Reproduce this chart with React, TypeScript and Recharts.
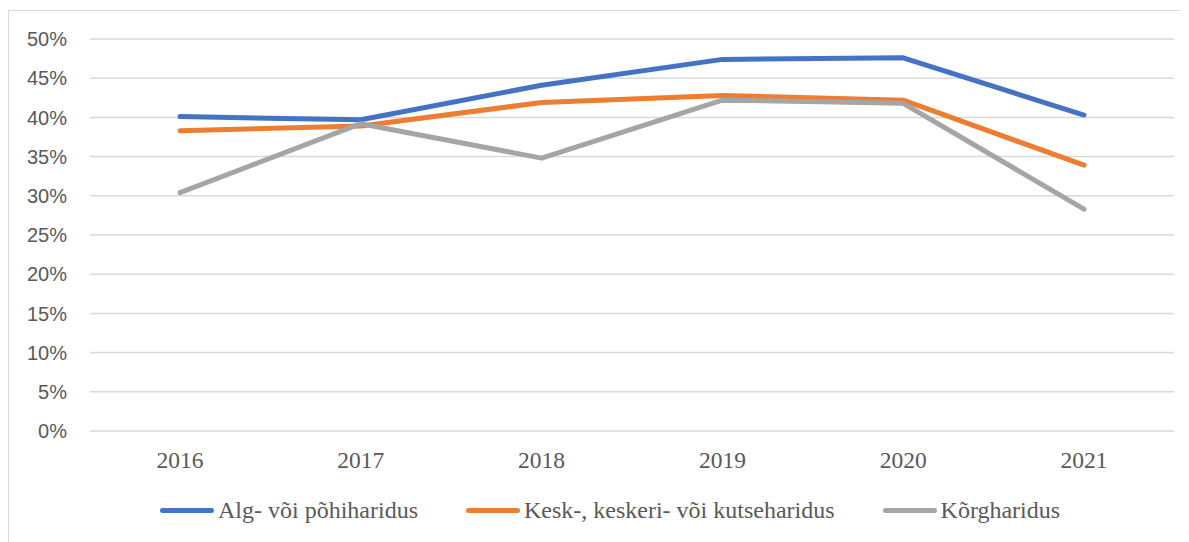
import React from 'react';
import { LineChart, Line, XAxis, YAxis, CartesianGrid, Legend } from 'recharts';

const years = ['2016', '2017', '2018', '2019', '2020', '2021'];
const algVoiPohi = [40.1, 39.7, 44.1, 47.4, 47.6, 40.3];
const keskVoiKutse = [38.3, 38.9, 41.9, 42.8, 42.2, 33.9];
const korg = [30.4, 39.2, 34.8, 42.2, 41.8, 28.3];
const yTicks = [0, 5, 10, 15, 20, 25, 30, 35, 40, 45, 50];

const series = [
  { key: 'alg', name: 'Alg- või põhiharidus', color: '#4472C4' },
  { key: 'kesk', name: 'Kesk-, keskeri- või kutseharidus', color: '#ED7D31' },
  { key: 'korg', name: 'Kõrgharidus', color: '#A5A5A5' },
];

const data = years.map((year, i) => ({
  year,
  alg: algVoiPohi[i],
  kesk: keskVoiKutse[i],
  korg: korg[i],
}));

const serif = '"Liberation Serif", "Times New Roman", serif';
const sans = '"Liberation Sans", Arial, sans-serif';

const LegendContent = () => (
  <div style={{ display: 'flex', alignItems: 'center', gap: 48, fontFamily: serif, fontSize: 24, color: '#595959', whiteSpace: 'nowrap' }}>
    {series.map(s => (
      <div key={s.key} style={{ display: 'flex', alignItems: 'center' }}>
        <span style={{ display: 'inline-block', width: 54, height: 5, borderRadius: 3, background: s.color, marginRight: 4 }} />
        <span>{s.name}</span>
      </div>
    ))}
  </div>
);

const App = () => {
  return (
    <div style={{ paddingTop: 2 }}>
      <div style={{ width: 1185, height: 540, border: '1px solid #d9d9d9', background: '#fff' }}>
        <LineChart width={1180} height={530} data={data} margin={{ top: 28, right: 15, left: 21, bottom: 80 }}>
          <CartesianGrid vertical={false} stroke="#d9d9d9" strokeWidth={1.5} />
          <XAxis
            dataKey="year"
            height={30}
            padding={{ left: 90, right: 90 }}
            axisLine={false}
            tickLine={false}
            tickSize={0}
            tickMargin={20}
            tick={{ fill: '#595959', fontSize: 23.5, fontFamily: serif }}
          />
          <YAxis
            width={60}
            domain={[0, 50]}
            ticks={yTicks}
            axisLine={false}
            tickLine={false}
            tickSize={0}
            tickMargin={23}
            tickFormatter={(v: number) => `${v}%`}
            tick={{ fill: '#595959', fontSize: 20, fontFamily: sans }}
          />
          <Legend
            layout="horizontal"
            verticalAlign="middle"
            align="center"
            content={<LegendContent />}
            wrapperStyle={{ top: 486, left: 151, width: 'auto' }}
          />
          {series.map(s => (
            <Line
              key={s.key}
              type="linear"
              dataKey={s.key}
              name={s.name}
              stroke={s.color}
              strokeWidth={5}
              strokeLinecap="round"
              strokeLinejoin="round"
              dot={false}
              activeDot={false}
              isAnimationActive={false}
            />
          ))}
        </LineChart>
      </div>
    </div>
  );
};

export default App;
